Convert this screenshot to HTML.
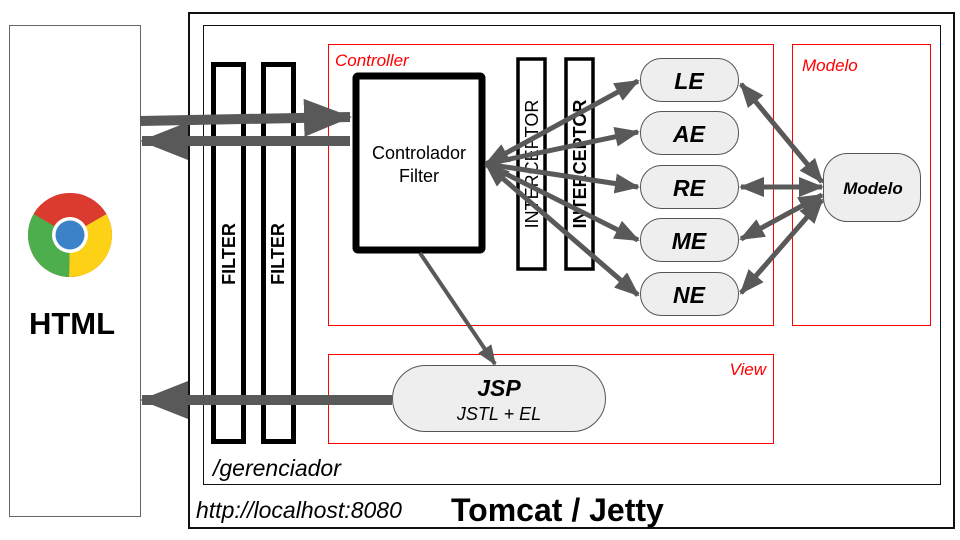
<!DOCTYPE html>
<html><head><meta charset="utf-8"><style>
html,body{margin:0;padding:0;background:#fff;}
svg{display:block;font-family:"Liberation Sans",Arial,sans-serif;}
</style></head><body>
<svg width="960" height="540" viewBox="0 0 960 540" xmlns="http://www.w3.org/2000/svg">
<defs>
<marker id="ah" markerWidth="5" markerHeight="4" refX="4.6" refY="2" orient="auto" markerUnits="strokeWidth"><path d="M0,0 L5,2 L0,4 z" fill="#595959"/></marker>
<marker id="ahs" markerWidth="5" markerHeight="4" refX="0.4" refY="2" orient="auto" markerUnits="strokeWidth"><path d="M5,0 L0,2 L5,4 z" fill="#595959"/></marker>
<marker id="bh" markerWidth="4.8" markerHeight="3.8" refX="4.6" refY="1.9" orient="auto" markerUnits="strokeWidth"><path d="M0,0 L4.8,1.9 L0,3.8 z" fill="#595959"/></marker>
</defs>
<!-- HTML box -->
<rect x="9.5" y="25.5" width="131" height="491" fill="#fff" stroke="#666" stroke-width="1"/>
<circle cx="70" cy="235" r="42" fill="#db3b2e"/>
<path d="M70,235 L106.4,214 A42,42 0 0 1 69,277 Z" fill="#fcd116"/>
<path d="M70,235 L69,277 A42,42 0 0 1 33.6,214 Z" fill="#4cae4c"/>
<path d="M70,235 L33.6,214 A42,42 0 0 1 106.4,214 Z" fill="#db3b2e"/>
<circle cx="70" cy="235" r="18" fill="#fff"/>
<circle cx="70" cy="235" r="14.5" fill="#3b82c8"/>
<text x="72" y="334" font-size="31" font-weight="bold" text-anchor="middle">HTML</text>
<!-- Tomcat -->
<rect x="189" y="13" width="765" height="515" fill="none" stroke="#111" stroke-width="2"/>
<rect x="203.5" y="25.5" width="737" height="459" fill="none" stroke="#111" stroke-width="1"/>
<!-- red containers -->
<rect x="328.5" y="44.5" width="445" height="281" fill="none" stroke="#f00" stroke-width="1"/>
<rect x="792.5" y="44.5" width="138" height="281" fill="none" stroke="#f00" stroke-width="1"/>
<rect x="328.5" y="354.5" width="445" height="89" fill="none" stroke="#f00" stroke-width="1"/>
<text x="335" y="66" font-size="17" font-style="italic" fill="#f00">Controller</text>
<text x="802" y="71" font-size="17" font-style="italic" fill="#f00">Modelo</text>
<text x="766" y="375" font-size="17" font-style="italic" fill="#f00" text-anchor="end">View</text>
<!-- filters -->
<rect x="213.5" y="64.5" width="30" height="377" fill="none" stroke="#000" stroke-width="5"/>
<rect x="263.5" y="64.5" width="30" height="377" fill="none" stroke="#000" stroke-width="5"/>
<text transform="translate(235,254) rotate(-90)" font-size="18" font-weight="bold" text-anchor="middle">FILTER</text>
<text transform="translate(284,254) rotate(-90)" font-size="18" font-weight="bold" text-anchor="middle">FILTER</text>
<!-- controlador -->
<rect x="356" y="76" width="126" height="174" fill="#fff" stroke="#000" stroke-width="7" rx="2"/>
<text x="419" y="159" font-size="18" text-anchor="middle">Controlador</text>
<text x="419" y="182" font-size="18" text-anchor="middle">Filter</text>
<!-- interceptors -->
<rect x="518" y="59" width="27" height="210" fill="#fff" stroke="#000" stroke-width="3.5"/>
<rect x="566" y="59" width="27" height="210" fill="#fff" stroke="#000" stroke-width="3.5"/>
<text transform="translate(538,164) rotate(-90)" font-size="18" text-anchor="middle">INTERCEPTOR</text>
<text transform="translate(586,164) rotate(-90)" font-size="18" font-weight="bold" text-anchor="middle">INTERCEPTOR</text>
<!-- pills -->
<g fill="#eee" stroke="#555" stroke-width="1">
<rect x="640.5" y="58.5" width="98" height="43" rx="21"/>
<rect x="640.5" y="111.5" width="98" height="43" rx="21"/>
<rect x="640.5" y="165.5" width="98" height="43" rx="21"/>
<rect x="640.5" y="218.5" width="98" height="43" rx="21"/>
<rect x="640.5" y="272.5" width="98" height="43" rx="21"/>
<rect x="823.5" y="153.5" width="97" height="68" rx="24"/>
<rect x="392.5" y="365.5" width="213" height="66" rx="33"/>
</g>
<g font-size="23" font-weight="bold" font-style="italic" text-anchor="middle">
<text x="689" y="89">LE</text><text x="689" y="142">AE</text><text x="689" y="196">RE</text><text x="689" y="249">ME</text><text x="689" y="303">NE</text>
<text x="499" y="396">JSP</text>
</g>
<text x="873" y="194" font-size="17" font-weight="bold" font-style="italic" text-anchor="middle">Modelo</text>
<text x="499" y="420" font-size="18" font-style="italic" text-anchor="middle">JSTL + EL</text>
<!-- arrows big -->
<g stroke="#595959" stroke-width="10" fill="none">
<line x1="140" y1="121" x2="350" y2="117" marker-end="url(#bh)"/>
<line x1="350" y1="141" x2="142" y2="141" marker-end="url(#bh)"/>
<line x1="392" y1="400" x2="142" y2="400" marker-end="url(#bh)"/>
</g>
<!-- thin arrows -->
<g stroke="#595959" stroke-width="5" fill="none">
<line x1="420" y1="253" x2="495" y2="364" stroke-width="4" marker-end="url(#ah)"/>
<line x1="486" y1="164" x2="638" y2="81" marker-start="url(#ahs)" marker-end="url(#ah)"/>
<line x1="486" y1="164" x2="638" y2="132" marker-end="url(#ah)"/>
<line x1="486" y1="164" x2="638" y2="187" marker-end="url(#ah)"/>
<line x1="486" y1="164" x2="638" y2="240" marker-end="url(#ah)"/>
<line x1="486" y1="164" x2="638" y2="295" marker-start="url(#ahs)" marker-end="url(#ah)"/>
<line x1="741" y1="84" x2="822" y2="182" marker-start="url(#ahs)" marker-end="url(#ah)"/>
<line x1="741" y1="187" x2="822" y2="187" marker-start="url(#ahs)" marker-end="url(#ah)"/>
<line x1="741" y1="239" x2="822" y2="195" marker-start="url(#ahs)" marker-end="url(#ah)"/>
<line x1="741" y1="293" x2="822" y2="200" marker-start="url(#ahs)" marker-end="url(#ah)"/>
</g>
<text x="213" y="476" font-size="23" font-style="italic">/gerenciador</text>
<text x="196" y="518" font-size="23" font-style="italic">http://localhost:8080</text>
<text x="451" y="521" font-size="32" font-weight="bold">Tomcat / Jetty</text>
</svg>
</body></html>
